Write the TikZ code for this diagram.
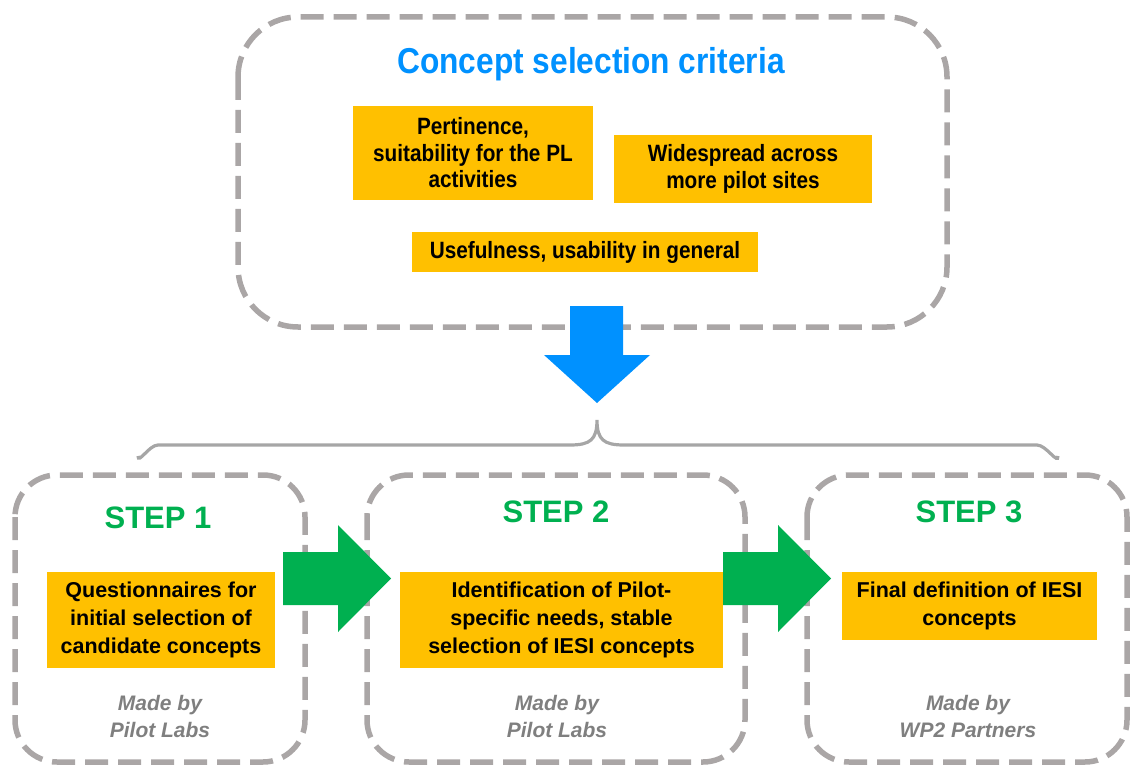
\documentclass[tikz,border=0pt]{standalone}
\usepackage{fontspec}
\setmainfont{Liberation Sans}
\newfontfamily\narrowfont[FakeStretch=0.88]{Liberation Sans}

\definecolor{critorange}{RGB}{255,192,0}
\definecolor{titleblue}{RGB}{0,145,255}
\definecolor{stepgreen}{RGB}{0,176,80}
\definecolor{dashgray}{RGB}{170,166,166}
\definecolor{bracegray}{RGB}{166,166,166}
\definecolor{notegray}{RGB}{127,127,127}

\begin{document}
\begin{tikzpicture}[x=1pt,y=-1pt,
  dashbox/.style={draw=dashgray, line width=5.5pt, dash pattern=on 23pt off 10pt},
  critbox/.style={fill=critorange, inner sep=0pt, align=center,
    font=\narrowfont\bfseries\fontsize{23.6}{26.5}\selectfont},
  stepbox/.style={fill=critorange, inner sep=0pt, align=center,
    font=\bfseries\fontsize{21.5}{27.7}\selectfont},
  steplabel/.style={text=stepgreen, font=\bfseries\fontsize{31}{36}\selectfont},
  madeby/.style={text=notegray, align=center, font=\bfseries\itshape\fontsize{21}{27}\selectfont}]
\useasboundingbox (0,0) rectangle (1132,767);

% criteria frame
\draw[dashbox, rounded corners=60pt] (238,17) rectangle (947,327);
\node[text=titleblue, font=\narrowfont\bfseries\fontsize{36}{42}\selectfont] (title) at (591,64) {Concept selection criteria};
\node[critbox, minimum width=240pt, minimum height=94pt] (crit1) at (473,153) {Pertinence,\\suitability for the PL\\activities};
\node[critbox, minimum width=258pt, minimum height=68pt] (crit2) at (743,169) {Widespread across\\more pilot sites};
\node[critbox, minimum width=346pt, minimum height=40pt] (crit3) at (585,252) {Usefulness, usability in general};

% step frames
\draw[dashbox, rounded corners=42pt] (15,475) rectangle (305,762);
\draw[dashbox, rounded corners=42pt] (367,475) rectangle (745,762);
\draw[dashbox, rounded corners=42pt] (807,475) rectangle (1127,762);

% downward arrow
\fill[titleblue] (570,306) -- (623,306) -- (623,355) -- (650,355) -- (597,403) -- (544,355) -- (570,355) -- cycle;

% brace
\draw[bracegray, line width=3.2pt]
  (138,456) to[out=-90,in=180] (158,445) -- (570,445)
  .. controls (590,445) and (597,440) .. (597,420)
  .. controls (597,440) and (604,445) .. (624,445) -- (1037,445)
  to[out=0,in=-90] (1058,456);

% step contents
\node[steplabel] (s1lab) at (158,518) {STEP 1};
\node[steplabel] (s2lab) at (556,512) {STEP 2};
\node[steplabel] (s3lab) at (969,512) {STEP 3};

\node[stepbox, minimum width=228pt, minimum height=96pt] (step1) at (161,620) {Questionnaires for\\initial selection of\\candidate concepts};
\node[stepbox, minimum width=323pt, minimum height=96pt] (step2) at (561.5,620) {Identification of Pilot-\\specific needs, stable\\selection of IESI concepts};
\node[stepbox, minimum width=255pt, minimum height=68pt] (step3) at (969.5,606) {Final definition of IESI\\concepts};

\node[madeby] (m1) at (160,716) {Made by\\Pilot Labs};
\node[madeby] (m2) at (557,716) {Made by\\Pilot Labs};
\node[madeby] (m3) at (968,716) {Made by\\WP2 Partners};

% step-to-step arrows
\fill[stepgreen] (283,552) -- (338,552) -- (338,525) -- (391,578.5) -- (338,632) -- (338,605) -- (283,605) -- cycle;
\fill[stepgreen] (723,552) -- (778,552) -- (778,525) -- (831,578.5) -- (778,632) -- (778,605) -- (723,605) -- cycle;
\end{tikzpicture}
\end{document}
